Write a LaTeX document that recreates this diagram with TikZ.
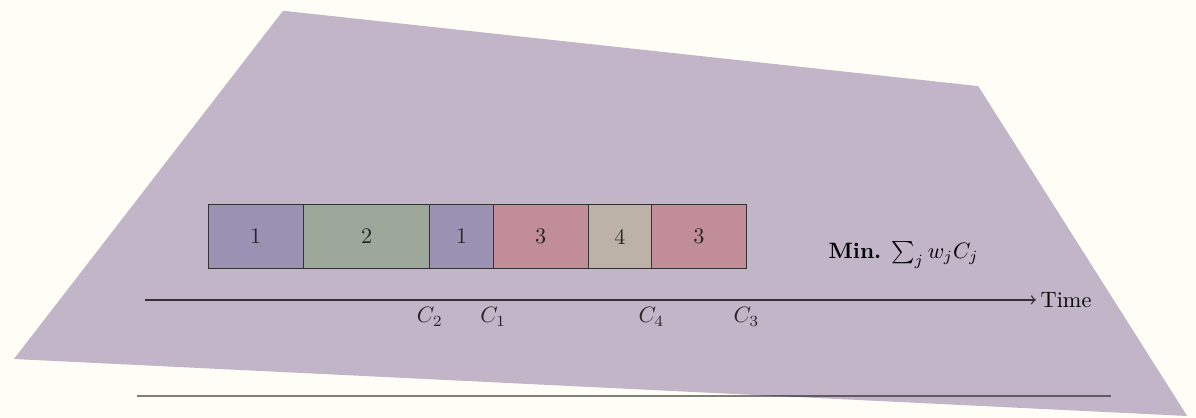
\documentclass[tikz,border=0pt]{standalone}
\usepackage{tikz}
\usetikzlibrary{positioning}
\usetikzlibrary{calc}
\usepackage{amsmath}
\usepackage{amssymb}
\definecolor{paper}{RGB}{254,254,246}
\definecolor{backdrop}{RGB}{194,181,199}
\definecolor{jobone}{RGB}{155,145,179}
\definecolor{jobtwo}{RGB}{157,167,154}
\definecolor{jobthree}{RGB}{192,141,152}
\definecolor{jobfour}{RGB}{189,178,168}

\begin{document}
\begin{tikzpicture}[scale=1.0,
    job/.style={draw=black!80, minimum height=1cm, inner sep=0pt, outer sep=0pt, text=black!85},
    finish/.style={below, text=black!85}]
    \fill[paper] (0, 0) rectangle (18.89, 6.60);
    \useasboundingbox (0, 0) rectangle (18.89, 6.60);
    \fill[backdrop] (4.47, 6.43) -- (15.45, 5.24) -- (18.75, 0.03) -- (0.22, 0.93) -- cycle;
    \draw[line width=0.9pt, black, opacity=0.5] (2.16, 0.35) -- (17.54, 0.35);

    \node[job, fill=jobone, minimum width=1.5cm, anchor=north west] (b1) at (3.29, 3.365) {1};
    \node[job, fill=jobtwo, minimum width=2cm, right=0pt of b1] (b2) {2};
    \node[job, fill=jobone, minimum width=1cm, right=0pt of b2] (b3) {1};
    \node[job, fill=jobthree, minimum width=1.5cm, right=0pt of b3] (b4) {3};
    \node[job, fill=jobfour, minimum width=1cm, right=0pt of b4] (b5) {4};
    \node[job, fill=jobthree, minimum width=1.5cm, right=0pt of b5] (b6) {3};

    \coordinate (t0) at (2.29, 1.864);
    \node[anchor=west, inner sep=2pt] (time) at (16.36, 1.864) {Time};
    \draw[->, semithick, black!80] (t0) -- (time.west);

    \node[finish] (c2) at (b2.south east |- t0) {$C_2$};
    \node[finish] (c1) at (b3.south east |- t0) {$C_1$};
    \node[finish] (c4) at (b5.south east |- t0) {$C_4$};
    \node[finish] (c3) at (b6.south east |- t0) {$C_3$};

    \node (goal) at (14.27, 2.575) {\textbf{Min.} $\sum_j w_j C_j$};
\end{tikzpicture}
\end{document}
